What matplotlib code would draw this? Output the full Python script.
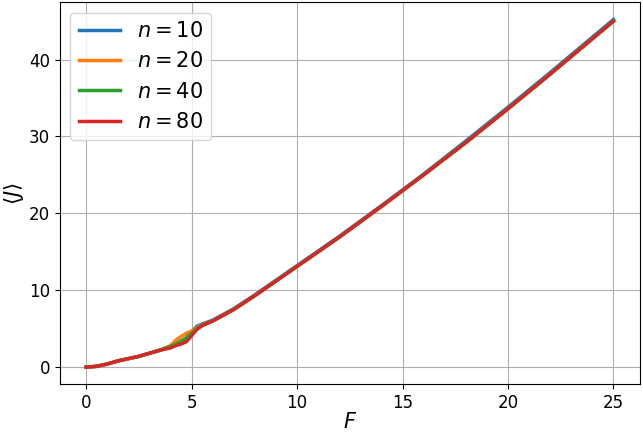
import matplotlib
matplotlib.use("Agg")
import matplotlib.pyplot as plt

# =========================
# DATA
# =========================
F = [0, 0.5, 1, 1.5, 2, 2.5, 3, 3.5, 4, 4.25, 4.5, 4.75, 5, 5.25, 5.5,
     6, 7, 8, 9, 10, 12, 14, 16, 18, 20, 22, 24, 25]

J_n10 = [0, 0.1, 0.4, 0.8, 1.1, 1.4, 1.8, 2.2, 2.6, 2.9, 3.3, 3.8, 4.6, 5.3, 5.6,
         6.1, 7.6, 9.4, 11.3, 13.2, 17.0, 21.0, 25.1, 29.4, 33.8, 38.3, 42.9, 45.2]
J_n20 = [0, 0.1, 0.4, 0.8, 1.1, 1.4, 1.8, 2.2, 2.8, 3.5, 4.0, 4.4, 4.7, 5.1, 5.5,
         6.0, 7.5, 9.3, 11.2, 13.1, 16.9, 20.9, 25.0, 29.2, 33.6, 38.1, 42.7, 45.0]
J_n40 = [0, 0.1, 0.4, 0.8, 1.1, 1.4, 1.8, 2.2, 2.7, 3.0, 3.4, 3.8, 4.4, 5.0, 5.4,
         6.0, 7.5, 9.3, 11.2, 13.1, 16.9, 20.9, 25.0, 29.2, 33.6, 38.1, 42.7, 45.0]
J_n80 = [0, 0.1, 0.4, 0.8, 1.1, 1.4, 1.8, 2.2, 2.5, 2.8, 3.0, 3.3, 4.1, 4.9, 5.4,
         6.0, 7.5, 9.3, 11.2, 13.1, 16.9, 20.9, 25.0, 29.2, 33.6, 38.1, 42.7, 45.0]

series = [("$n = 10$", J_n10), ("$n = 20$", J_n20),
          ("$n = 40$", J_n40), ("$n = 80$", J_n80)]

# =========================
# FIGURE
# =========================
fig, ax = plt.subplots(figsize=(6.43, 4.32), dpi=100)

for label, J in series:
    ax.plot(F, J, linewidth=2.5, label=label)

ax.set_xlabel("$F$", fontsize=15, labelpad=0)
ax.set_ylabel(r"$\langle J\rangle$", fontsize=15, labelpad=2)
ax.tick_params(labelsize=12)
ax.grid(True)
ax.legend(fontsize=15, loc="upper left")

fig.subplots_adjust(left=0.093, right=0.995, bottom=0.11, top=0.995)
fig.savefig("out.png")
